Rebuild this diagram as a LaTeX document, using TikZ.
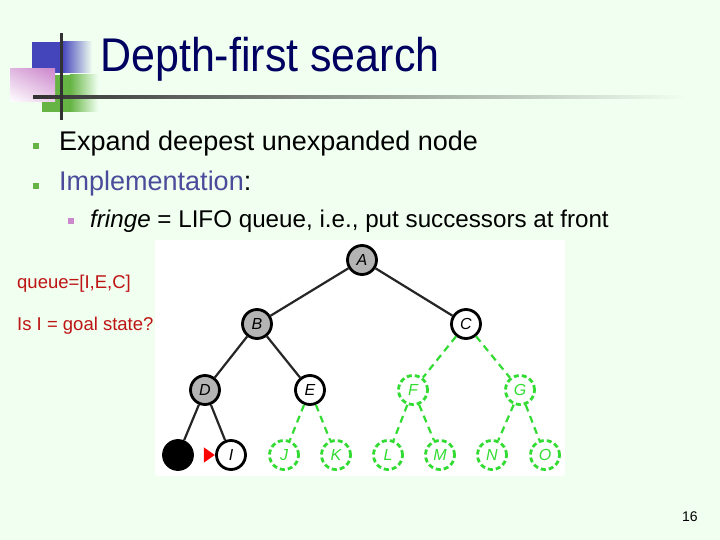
\documentclass[tikz,border=0pt]{standalone}
\usepackage{fontspec}
\setmainfont{Liberation Sans}
\setsansfont{Liberation Sans}
\usetikzlibrary{shapes.geometric,shadings}
\definecolor{bg}{RGB}{240,255,240}
\definecolor{navy}{RGB}{0,0,96}
\definecolor{impl}{RGB}{75,75,155}
\definecolor{bblue}{RGB}{68,68,187}
\definecolor{bgreen}{RGB}{102,180,68}
\definecolor{bpink}{RGB}{204,136,204}
\definecolor{grn}{RGB}{50,220,50}
\definecolor{rd}{RGB}{190,20,20}
\definecolor{nodegray}{RGB}{180,180,180}
\definecolor{dk}{RGB}{50,50,50}
\tikzset{
 tn/.style={circle, minimum size=29pt, inner sep=0pt, line width=2.8pt, font=\fontsize{16}{16}\selectfont\itshape},
 expd/.style={tn, draw=black, fill=nodegray},
 frnt/.style={tn, draw=black, fill=white},
 unkn/.style={tn, draw=grn, dash pattern=on 5pt off 3pt, text=grn, fill=white},
 goalnode/.style={tn, draw=black, fill=black},
 ed/.style={line width=2.2pt, black!85},
 ged/.style={line width=2.2pt, grn, dash pattern=on 7pt off 5pt},
 txt/.style={anchor=base west, inner sep=0pt},
 bul/.style={inner sep=0pt, minimum size=6pt, fill=bgreen},
}
\begin{document}
\begin{tikzpicture}[x=1pt,y=-1pt]
\fill[bg] (0,0) rectangle (720,540);
\useasboundingbox (0,0) rectangle (720,540);
% decoration
\fill[bblue] (32,42) rectangle (62,73);
\shade[left color=bblue, right color=bg] (62,42) rectangle (92,73);
\fill[bgreen] (42,75) rectangle (70,112);
\shade[left color=bgreen, right color=bg] (70,75) rectangle (98,112);
\shade[upper right=bpink, upper left=bpink!60!white, lower left=white, lower right=bpink!40!white] (10,69) rectangle (55,102);
\shade[left color=dk, right color=bg] (33,95.5) rectangle (685,98.5);
\fill[dk] (59.5,33) rectangle (62.5,120);
% title
\node[txt, text=navy, font=\fontsize{43}{43}\selectfont] (title) at (100,72) {\scalebox{1}[1.1]{Depth-first search}};
% bullets
\node[bul] (b1) at (36,146) {};
\node[bul] (b2) at (36,186.5) {};
\node[bul, fill=bpink] (b3) at (70.5,221.5) {};
\node[txt, font=\fontsize{27}{27}\selectfont] (t1) at (59,151) {Expand deepest unexpanded node};
\node[txt, font=\fontsize{27}{27}\selectfont] (t2) at (59,191) {\textcolor{impl}{Implementation}:};
\node[txt, font=\fontsize{24.2}{24.2}\selectfont] (t3) at (90,228) {\textit{fringe} = LIFO queue, i.e., put successors at front};
\node[txt, text=rd, font=\fontsize{18.5}{18.5}\selectfont] (q) at (17,288) {queue=[I,E,C]};
\node[txt, text=rd, font=\fontsize{18.5}{18.5}\selectfont] (g) at (17,330) {Is I = goal state?};
\node[txt, font=\fontsize{14}{14}\selectfont] (pg) at (682,521) {16};
% tree panel
\fill[white] (155,240) rectangle (565,476);
\node[expd] (A) at (362,260) {A};
\node[expd] (B) at (257,324) {B};
\node[frnt] (C) at (466,324) {C};
\node[expd] (D) at (205,390) {D};
\node[frnt] (E) at (310,390) {E};
\node[unkn] (F) at (413,390) {F};
\node[unkn] (G) at (520,390) {G};
\node[goalnode] (H) at (178,455) {};
\node[frnt] (I) at (231,455) {I};
\node[unkn] (J) at (284,455) {J};
\node[unkn] (K) at (336,455) {K};
\node[unkn] (L) at (388,455) {L};
\node[unkn] (M) at (440,455) {M};
\node[unkn] (N) at (492,455) {N};
\node[unkn] (O) at (545,455) {O};
\draw[ed] (A) -- (B);
\draw[ed] (A) -- (C);
\draw[ed] (B) -- (D);
\draw[ed] (B) -- (E);
\draw[ed] (D) -- (H);
\draw[ed] (D) -- (I);
\draw[ged] (C) -- (F);
\draw[ged] (C) -- (G);
\draw[ged] (E) -- (J);
\draw[ged] (E) -- (K);
\draw[ged] (F) -- (L);
\draw[ged] (F) -- (M);
\draw[ged] (G) -- (N);
\draw[ged] (G) -- (O);
% pointer
\node[isosceles triangle, isosceles triangle apex angle=70, fill=red, inner sep=0pt, minimum height=11pt, minimum width=15pt, anchor=apex] (ptr) at (I.west) {};
\end{tikzpicture}
\end{document}
